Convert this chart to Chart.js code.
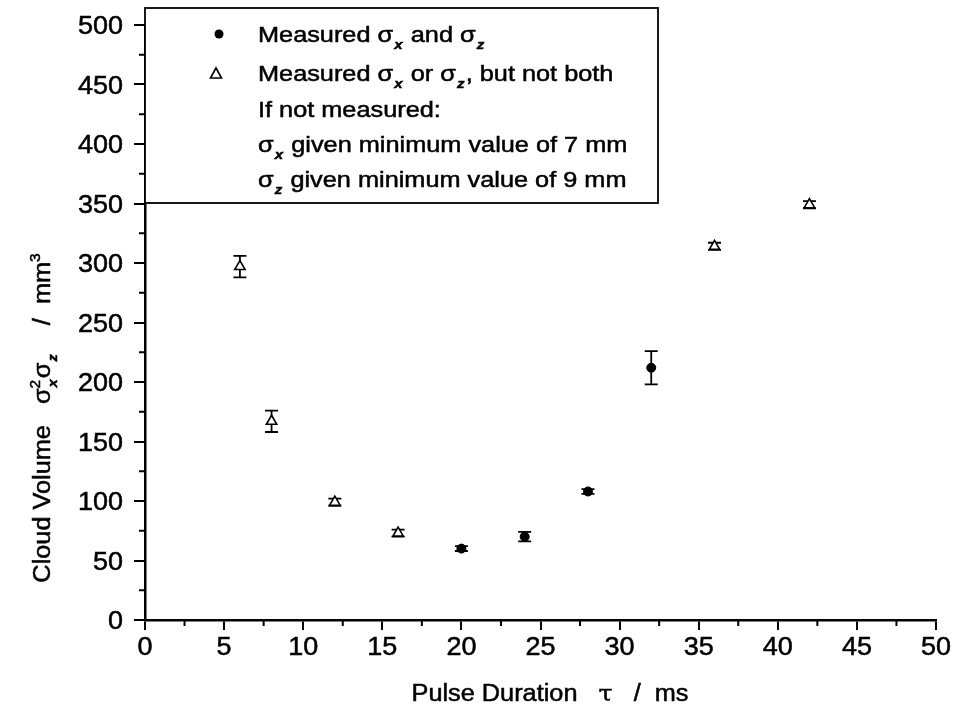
<!DOCTYPE html>
<html>
<head>
<meta charset="utf-8">
<script src="https://cdn.jsdelivr.net/npm/chart.js@4.4.0/dist/chart.umd.min.js"></script>
<style>
  body { margin: 0; background: #fff; }
  #wrap { width: 956px; height: 717px; }
</style>
</head>
<body>
<div id="wrap"><canvas id="chart" width="956" height="717"></canvas></div>
<script>
// measured both sigma_x and sigma_z (filled circles)
const bothX = [20, 24, 28, 32];
const bothY = [60, 70, 108, 212];
const bothErr = [2, 4, 2, 14];

// measured only one of them (open triangles)
const oneX = [6, 8, 12, 16, 36, 42];
const oneY = [297, 167, 99, 73, 314, 349];
const oneErr = [9, 9, 3, 3, 3, 3];

const xTicks = [0, 5, 10, 15, 20, 25, 30, 35, 40, 45, 50];
const yTicks = [0, 50, 100, 150, 200, 250, 300, 350, 400, 450, 500];

const legendLines = [
    [{ t: 'Measured σ' }, { sub: 'x' }, { t: ' and σ' }, { sub: 'z' }],
    [{ t: 'Measured σ' }, { sub: 'x' }, { t: ' or σ' }, { sub: 'z' }, { t: ', but not both' }],
    [{ t: 'If not measured:' }],
    [{ t: 'σ' }, { sub: 'x' }, { t: ' given minimum value of 7 mm' }],
    [{ t: 'σ' }, { sub: 'z' }, { t: ' given minimum value of 9 mm' }]
];
const xTitle = [{ t: 'Pulse Duration   ' }, { t: 'τ', serif: true }, { t: '   /  ms' }];
const yTitle = [{ t: 'Cloud Volume   σ' }, { sub: 'x', sup: '2' }, { t: 'σ' }, { sub: 'z' }, { t: '    /  mm' }, { sup: '3' }];

const FONT = '"Liberation Sans", Arial, sans-serif';

function toPts(xs, ys) {
    return xs.map((x, i) => ({ x, y: ys[i] }));
}

function put(ctx, s, x, y, draw) {
    if (!draw) return;
    ctx.fillText(s, x, y);
    ctx.strokeText(s, x, y);
}

// draws a run of text with sub/superscripts, stretched sideways by sx, returns width
function richText(ctx, parts, x, y, size, sx, draw) {
    ctx.save();
    ctx.translate(x, y);
    ctx.scale(sx, 1);
    ctx.lineWidth = 0.5;
    ctx.strokeStyle = '#000';
    let cx = 0;
    parts.forEach(p => {
        if (p.t !== undefined) {
            ctx.font = p.serif ? `${size}px "DejaVu Serif", serif` : `${size}px ${FONT}`;
            put(ctx, p.t, cx, 0, draw);
            cx += ctx.measureText(p.t).width;
        } else {
            let w = 0;
            if (p.sub) {
                ctx.font = `italic bold ${Math.round(size * 0.58)}px ${FONT}`;
                put(ctx, p.sub, cx + 1, size * 0.3, draw);
                w = Math.max(w, ctx.measureText(p.sub).width + 2);
            }
            if (p.sup) {
                ctx.font = `${Math.round(size * 0.62)}px ${FONT}`;
                put(ctx, p.sup, cx, -size * 0.45, draw);
                w = Math.max(w, ctx.measureText(p.sup).width);
            }
            cx += w;
        }
    });
    ctx.restore();
    return cx * sx;
}

function label(ctx, text, x, y, size, align) {
    const w = richText(ctx, [{ t: text }], 0, 0, size, 1.08, false);
    const left = align === 'right' ? x - w : x - w / 2;
    richText(ctx, [{ t: text }], left, y, size, 1.08, true);
}

const extras = {
    id: 'extras',
    beforeDatasetsDraw(chart) {
        const ctx = chart.ctx;
        const xs = chart.scales.x, ys = chart.scales.y;
        ctx.save();
        ctx.strokeStyle = '#000';
        ctx.lineWidth = 1.8;
        const bars = (X, Y, E) => X.forEach((x, i) => {
            const px = xs.getPixelForValue(x);
            const top = ys.getPixelForValue(Y[i] + E[i]);
            const bot = ys.getPixelForValue(Y[i] - E[i]);
            ctx.beginPath();
            ctx.moveTo(px, top); ctx.lineTo(px, bot);
            ctx.moveTo(px - 6.5, top); ctx.lineTo(px + 6.5, top);
            ctx.moveTo(px - 6.5, bot); ctx.lineTo(px + 6.5, bot);
            ctx.stroke();
        });
        bars(bothX, bothY, bothErr);
        bars(oneX, oneY, oneErr);
        ctx.restore();
    },
    afterDraw(chart) {
        const ctx = chart.ctx;
        const a = chart.chartArea;
        const xs = chart.scales.x, ys = chart.scales.y;
        ctx.save();
        ctx.strokeStyle = '#000';
        ctx.fillStyle = '#000';
        ctx.lineWidth = 2;
        // minor ticks
        ctx.beginPath();
        for (let v = 2.5; v < 50; v += 5) {
            const px = xs.getPixelForValue(v);
            ctx.moveTo(px, a.bottom); ctx.lineTo(px, a.bottom + 6);
        }
        for (let v = 25; v < 500; v += 50) {
            const py = ys.getPixelForValue(v);
            ctx.moveTo(a.left, py); ctx.lineTo(a.left - 6, py);
        }
        ctx.stroke();

        // tick labels
        ctx.textBaseline = 'alphabetic';
        xTicks.forEach(v => label(ctx, String(v), xs.getPixelForValue(v), a.bottom + 35, 25, 'center'));
        yTicks.forEach(v => label(ctx, String(v), a.left - 22, ys.getPixelForValue(v) + 9, 25, 'right'));

        // legend box
        const lx = a.left, ly = 8, lw = 513, lh = 195;
        ctx.fillStyle = '#fff';
        ctx.fillRect(lx, ly, lw, lh);
        ctx.lineWidth = 1.8;
        ctx.strokeRect(lx, ly, lw, lh);
        ctx.fillStyle = '#000';
        ctx.beginPath();
        ctx.arc(219, 34, 4.5, 0, Math.PI * 2);
        ctx.fill();
        ctx.beginPath();
        ctx.moveTo(216, 68); ctx.lineTo(221.5, 78); ctx.lineTo(210.5, 78); ctx.closePath();
        ctx.lineWidth = 1.6;
        ctx.stroke();
        const rows = [42, 81, 117, 152, 187];
        legendLines.forEach((line, i) => richText(ctx, line, 258, rows[i], 22, 1.15, true));

        // axis titles
        const wX = richText(ctx, xTitle, 0, 0, 23, 1.1, false);
        richText(ctx, xTitle, 550 - wX / 2, 701, 23, 1.1, true);
        const wY = richText(ctx, yTitle, 0, 0, 23, 1.1, false);
        ctx.translate(50, 418);
        ctx.rotate(-Math.PI / 2);
        richText(ctx, yTitle, -wY / 2, 0, 23, 1.1, true);
        ctx.restore();
    }
};

new Chart(document.getElementById('chart'), {
    type: 'scatter',
    data: {
        datasets: [
            {
                label: 'Measured both',
                data: toPts(bothX, bothY),
                pointStyle: 'circle',
                pointRadius: 4.5,
                backgroundColor: '#000',
                borderColor: '#000',
                borderWidth: 1
            },
            {
                label: 'Measured one',
                data: toPts(oneX, oneY),
                pointStyle: 'triangle',
                pointRadius: 6,
                backgroundColor: '#fff',
                borderColor: '#000',
                borderWidth: 1.6
            }
        ]
    },
    options: {
        responsive: false,
        devicePixelRatio: 1,
        animation: false,
        layout: { padding: { top: 25, right: 20 } },
        plugins: { legend: { display: false }, tooltip: { enabled: false } },
        scales: {
            x: {
                type: 'linear',
                min: 0, max: 50,
                afterFit: s => { s.height = 97; },
                afterBuildTicks: s => { s.ticks = xTicks.map(v => ({ value: v })); },
                ticks: { display: false },
                grid: { drawOnChartArea: false, color: '#000', lineWidth: 2, tickLength: 10 },
                border: { color: '#000', width: 2.5 }
            },
            y: {
                min: 0, max: 500,
                afterFit: s => { s.width = 145; },
                afterBuildTicks: s => { s.ticks = yTicks.map(v => ({ value: v })); },
                ticks: { display: false },
                grid: { drawOnChartArea: false, color: '#000', lineWidth: 2, tickLength: 11 },
                border: { color: '#000', width: 2.5 }
            }
        }
    },
    plugins: [extras]
});
</script>
</body>
</html>
